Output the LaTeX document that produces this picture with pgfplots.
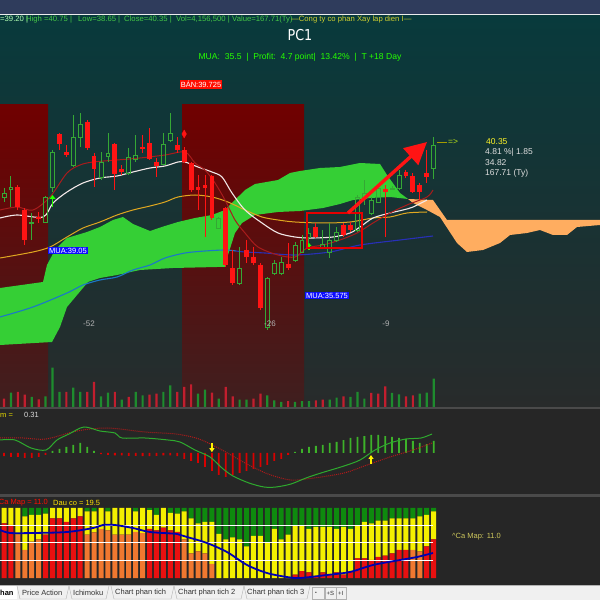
\documentclass[border=0pt]{standalone}
\usepackage{fontspec}
\setmainfont{Liberation Sans}
\newfontfamily\pcfont{DejaVu Sans}
\usepackage{pgfplots}
\usepackage{pgfplotstable}
\pgfplotsset{compat=1.18}
\usetikzlibrary{arrows.meta}
\definecolor{topbar}{HTML}{2F3C5C}
\definecolor{tealtop}{HTML}{083A3C}
\definecolor{tealbot}{HTML}{282B2B}
\definecolor{zonetop}{HTML}{700000}
\definecolor{zonebot}{HTML}{3F1F1F}
\definecolor{cloudg}{HTML}{35CF35}
\definecolor{cloudo}{HTML}{FFAD60}
\definecolor{cgreen}{HTML}{35A835}
\definecolor{cred}{HTML}{FF1414}
\definecolor{vgreen}{HTML}{1E8C2E}
\definecolor{vred}{HTML}{C21E2E}
\definecolor{mawhite}{HTML}{F2E8E8}
\definecolor{mayellow}{HTML}{E0A820}
\definecolor{mared}{HTML}{A81C1C}
\definecolor{mablue}{HTML}{2830B8}
\definecolor{mateal}{HTML}{1A78C8}
\definecolor{panel}{HTML}{262626}
\definecolor{sep}{HTML}{4A4A4A}
\definecolor{hgreen}{HTML}{46C846}
\definecolor{hyellow}{HTML}{D0D030}
\definecolor{sgreen}{HTML}{0E8A0E}
\definecolor{syellow}{HTML}{F4F000}
\definecolor{sred}{HTML}{E81010}
\definecolor{sorange}{HTML}{F07830}
\definecolor{mgreen}{HTML}{2EAA2E}
\definecolor{mdot}{HTML}{B01A1A}

% up candles: index open high low close
\pgfplotstableread{
i o h l c
0 37.75 38.2 37.5 37.95
1 38.15 38.8 37.25 38.25
4 36.45 36.95 35.6 36.5
6 36.5 37.8 36.45 37.75
7 38.25 40.1 38.0 40.0
10 39.35 41.85 39.25 40.75
11 40.75 41.95 40.25 41.4
14 38.75 40.0 38.6 39.5
15 39.8 40.95 39.5 39.95
18 38.95 40.2 38.85 39.75
19 39.65 40.85 39.5 39.85
23 39.4 40.95 39.35 40.4
24 40.6 41.95 40.5 40.95
31 36.2 36.75 36.15 36.7
34 33.45 35.25 33.35 34.2
38 31.25 33.75 31.1 33.7
39 33.95 34.6 33.85 34.45
40 33.95 34.75 33.85 34.5
42 34.6 35.5 34.5 35.35
43 35.0 35.85 34.95 35.6
44 35.75 36.2 35.35 35.95
46 35.25 36.1 35.2 35.4
47 35.0 36.45 34.7 35.6
48 35.6 36.25 35.5 36.0
51 36.1 37.85 36.0 37.75
52 37.7 38.6 37.35 37.95
53 36.95 37.75 36.85 37.6
54 37.5 38.35 37.45 38.2
56 38.15 38.3 38.1 38.2
57 38.2 39.1 38.1 38.85
62 39.2 40.75 38.65 40.35
}\upc
% down candles
\pgfplotstableread{
i o h l c
2 38.25 38.35 37.1 37.25
3 37.1 37.2 35.35 35.6
5 36.75 37.0 36.45 36.65
8 40.9 40.95 40.1 40.4
9 40.0 40.35 39.75 39.85
12 41.5 41.6 40.1 40.2
13 39.8 39.95 38.25 39.15
16 40.4 40.45 38.1 38.9
17 39.15 39.35 38.85 39.0
20 40.25 40.85 39.95 40.15
21 40.45 41.2 39.6 39.65
22 39.5 39.7 38.75 39.3
25 40.35 40.75 39.95 40.1
26 40.1 40.25 39.45 39.5
27 39.45 39.5 38.0 38.1
28 38.25 38.85 37.1 38.1
29 38.35 38.85 35.75 38.2
30 38.8 38.85 36.6 36.7
32 37.2 37.25 34.25 34.35
33 34.2 35.1 33.35 33.45
35 35.1 35.6 34.45 34.75
36 34.75 35.25 34.35 34.45
37 34.35 34.45 32.1 32.2
41 34.4 35.45 34.1 34.2
45 36.25 36.45 35.7 35.75
49 36.35 36.45 35.75 35.85
50 36.35 36.5 36.0 36.1
55 38.15 38.35 35.75 38.0
58 39.0 39.1 38.7 38.8
59 38.8 38.95 37.95 38.0
60 38.35 38.45 37.6 38.0
61 38.95 40.1 38.45 38.75
}\dnc
% bottom panel stacks: orange red yellow green
\pgfplotstableread{
i O R Y G
0 0 78 22 0
1 0 76 24 0
2 62 0 38 0
3 40 0 48 12
4 52 0 38 10
5 55 0 35 10
6 0 62 30 8
7 0 85 15 0
8 0 85 15 0
9 0 80 20 0
10 0 85 15 0
11 0 88 12 0
12 62 0 33 5
13 65 0 30 5
14 70 0 30 0
15 68 0 27 5
16 62 0 38 0
17 62 0 38 0
18 62 0 38 0
19 66 0 29 5
20 64 0 36 0
21 0 70 27 3
22 0 68 22 10
23 0 72 28 0
24 0 68 25 7
25 0 66 26 8
26 55 0 40 5
27 35 0 50 15
28 38 0 40 22
29 35 0 45 20
30 20 0 60 20
31 0 0 63 37
32 0 0 55 45
33 0 0 58 42
34 0 0 55 45
35 0 0 45 55
36 0 0 60 40
37 0 0 60 40
38 0 0 50 50
39 0 0 70 30
40 0 0 55 45
41 0 0 62 38
42 0 5 70 25
43 0 10 65 25
44 0 8 62 30
45 0 3 70 27
46 0 8 65 27
47 0 5 68 27
48 0 8 62 30
49 0 5 68 27
50 0 10 60 30
51 0 28 47 25
52 0 28 52 20
53 0 26 52 22
54 0 30 52 18
55 0 32 50 18
56 0 35 50 15
57 0 40 45 15
58 0 40 45 15
59 40 0 45 15
60 38 0 50 12
61 0 45 45 10
62 0 55 40 5
}\stk

\pgfplotsset{
  base/.style={scale only axis, width=600pt, axis lines=none, ticks=none,
    xmin=-0.5772, xmax=86.003, clip=true, anchor=south west},
  mainax/.style={base, height=391pt, ymin=27.25, ymax=46.8, at={(0pt,193pt)}},
  ebar/.style n args={2}{mark=none, draw opacity=0, error bars/.cd, y dir=both, y explicit,
    error mark=none, error bar style={draw=#1, draw opacity=1, line width=#2}},
}

\begin{document}
\begin{tikzpicture}[x=1pt,y=1pt]
\useasboundingbox (0,0) rectangle (600,600);
\fill[topbar] (0,586) rectangle (600,600);
\fill[white!85!gray] (0,584) rectangle (600,586);
\shade[top color=tealtop, bottom color=tealbot] (0,193) rectangle (600,584);
\fill[sep] (0,191) rectangle (600,193);
\fill[panel] (0,106) rectangle (600,191);
\fill[sep] (0,103) rectangle (600,106);
\fill[panel] (0,15) rectangle (600,103);
\fill[gray!12] (0,0) rectangle (600,15);

% ---------- main panel: zones, cloud, averages
\begin{axis}[mainax]
\addplot[draw=none, top color=zonetop, bottom color=zonebot] coordinates {(-0.58,42.35) (6.35,42.35) (6.35,27.25) (-0.58,27.25)} -- cycle;
\addplot[draw=none, top color=zonetop, bottom color=zonebot] coordinates {(25.69,42.35) (43.29,42.35) (43.29,27.25) (25.69,27.25)} -- cycle;
\addplot[draw=none, fill=cloudg] coordinates {
(-0.58,33.2) (5.63,33.5) (6.20,34.35) (7.36,35.1) (9.09,35.7) (11.98,36.0) (13.85,36.25)
(15.73,36.6) (17.17,36.75) (18.61,36.4) (21.07,36.05) (23.23,36.3) (25.11,36.5) (27.56,36.7)
(30.01,36.85) (31.89,37.1) (33.33,37.6) (34.78,38.1) (36.22,38.4) (39.54,38.6) (41.27,38.95)
(42.71,39.05) (45.60,39.2) (48.48,39.25) (51.37,39.45) (54.26,39.4) (55.27,38.85) (57.14,37.95)
(58.30,37.65) (55.70,37.75) (52.81,37.7) (50.36,37.6) (48.48,37.4) (46.03,37.2) (42.71,37.05)
(39.54,37.0) (36.22,36.85) (34.34,36.45) (33.33,35.95) (32.32,34.85) (31.89,34.25) (30.74,34.25)
(24.39,34.2) (19.62,34.1) (16.31,33.85) (13.85,33.7) (12.12,33.5) (9.09,32.25) (8.08,31.25)
(6.93,30.5) (-0.58,30.35)} -- cycle;
\addplot[draw=none, fill=cloudo] coordinates {
(58.30,37.65) (61.90,37.6) (63.92,36.6) (86.0,36.6) (86.0,36.35) (82.68,36.25) (81.24,35.85)
(79.22,35.85) (77.34,36.1) (75.47,35.95) (73.02,35.85) (71.57,35.45) (69.12,35.1) (66.81,35.0)
(65.37,35.45) (62.91,36.75) (61.04,37.1) (59.02,37.45)} -- cycle;
% blue long average
\addplot[mateal, line width=1.1pt, smooth] coordinates {
(-0.58,31.75) (4.18,32.25) (9.09,32.95) (11.40,33.35) (13.85,33.6) (16.31,33.75) (18.61,34.1)
(21.07,34.35) (23.23,34.7) (26.12,34.95) (29.0,35.05) (31.89,35.1) (33.5,35.05)};
\addplot[mablue, line width=1.1pt, smooth] coordinates {
(33.5,35.05) (34.78,35.0) (37.66,34.95)
(41.99,34.85) (47.04,35.0) (51.37,35.35) (57.14,35.6) (61.90,35.8)};
% yellow average
\addplot[mayellow, line width=1pt, smooth] coordinates {
(-0.58,34.7) (4.18,35.0) (6.64,35.25) (9.09,35.75) (11.40,36.2) (13.85,36.5) (16.31,36.85)
(18.61,37.1) (21.07,37.3) (23.23,37.5) (25.11,37.75) (27.56,37.85) (30.01,37.75) (32.32,37.5)
(34.78,37.1) (37.23,36.75) (39.54,36.6) (41.99,36.5) (46.03,36.45) (49.93,36.5) (53.25,36.7)
(55.70,36.75) (58.15,36.95) (61.04,37.0)};
% white average
\addplot[mawhite, line width=1.1pt, smooth] coordinates {
(-0.58,36.7) (1.88,36.85) (5.63,36.75) (7.07,37.45) (9.09,38.0) (11.40,38.45) (13.85,38.7)
(16.31,38.8) (18.61,39.0) (21.07,39.2) (23.23,39.3) (25.11,39.5) (26.12,39.5) (27.99,39.25)
(30.01,39.0) (31.46,38.75) (32.90,37.95) (34.78,37.1) (37.23,36.45) (39.54,35.95) (41.99,35.75)
(44.16,35.7) (47.47,35.75) (49.93,35.95) (51.37,36.25) (53.25,36.7) (55.70,36.95) (57.58,37.1)
(59.02,37.25) (61.04,37.6)};
% dark red fast average
\addplot[mared, line width=1pt, smooth] coordinates {
(-0.58,37.1) (1.88,37.25) (4.18,37.1) (6.64,37.75) (9.09,38.95) (10.97,39.35) (12.84,39.5)
(16.31,39.6) (19.62,39.7) (23.23,39.85) (26.12,40.0) (27.56,39.45) (29.0,39.1) (30.45,38.45)
(31.89,37.6) (33.33,36.6) (34.78,35.95) (36.65,35.25) (39.54,34.85) (41.99,34.75) (43.72,35.2)
(46.03,35.35) (48.48,35.6) (50.94,35.95) (53.25,36.45) (55.70,36.95) (58.15,37.35) (61.04,37.75)
(61.90,38.1)};
\end{axis}

% ---------- volume
\begin{axis}[base, height=391pt, ymin=0, ymax=57.48, at={(0pt,193pt)}]
\addplot[ybar, bar width=2.2pt, bar shift=0pt, fill=vgreen, draw=none] coordinates {
(1,2.10) (4,1.47) (6,1.57) (7,5.78) (8,2.21) (10,2.84) (11,2.21) (14,1.57) (15,2.10) (17,1.07)
(19,2.21) (20,1.72) (23,2.21) (24,3.19) (28,1.96) (29,2.54) (31,1.22) (34,1.07) (35,1.07)
(38,1.72) (39,0.98) (40,0.74) (42,0.74) (43,0.88) (44,0.88) (47,1.07) (48,1.37) (50,1.47)
(51,2.21) (52,1.22) (56,2.06) (57,1.87) (60,1.96) (61,2.10) (62,4.16)};
\addplot[ybar, bar width=2.2pt, bar shift=0pt, fill=vred, draw=none] coordinates {
(0,1.22) (2,2.21) (3,1.81) (5,1.13) (9,2.21) (12,2.21) (13,3.68) (16,2.21) (18,1.47) (21,1.81)
(22,1.96) (25,2.21) (26,2.94) (27,3.34) (30,2.10) (32,2.94) (33,1.57) (36,1.22) (37,1.96)
(41,0.88) (45,0.98) (46,1.07) (49,1.57) (53,2.06) (54,1.96) (55,3.04) (58,1.57) (59,1.72)};
\end{axis}

% ---------- hollow up-candle bodies
\begin{axis}[mainax, ybar stacked, bar width=3.9pt]
\addplot[draw=none, fill=none, bar shift=0pt] table[x=i, y=o] {\upc};
\addplot[draw=cgreen, line width=0.9pt, fill=none, bar shift=0pt] table[x=i, y expr={max(\thisrow{c}-\thisrow{o},0.05)}] {\upc};
\end{axis}

% ---------- wicks, filled bodies, annotations
\begin{axis}[mainax]
\addplot[ebar={cgreen}{0.9pt}] table[x=i, y expr={(\thisrow{h}+\thisrow{c})/2}, y error expr={(\thisrow{h}-\thisrow{c})/2}] {\upc};
\addplot[ebar={cgreen}{0.9pt}] table[x=i, y expr={(\thisrow{o}+\thisrow{l})/2}, y error expr={(\thisrow{o}-\thisrow{l})/2}] {\upc};
\addplot[ebar={cred}{0.9pt}] table[x=i, y expr={(\thisrow{h}+\thisrow{l})/2}, y error expr={(\thisrow{h}-\thisrow{l})/2}] {\dnc};
\addplot[ebar={cred}{4.8pt}] table[x=i, y expr={(\thisrow{o}+\thisrow{c})/2}, y error expr={max((\thisrow{o}-\thisrow{c})/2,0.03)}] {\dnc};
\addplot[only marks, mark=diamond*, mark size=3pt, cred, mark options={yscale=1.3}] coordinates {(26,40.9)};
\addplot[green!80!lime, line width=1.6pt, -{Triangle[length=4pt,width=6pt]}] coordinates {(7,37.25) (7,37.85)};
\addplot[green!80!lime, line width=1.4pt, -{Triangle[length=3pt,width=5pt]}] coordinates {(44,35.12) (44,35.45)};
\addplot[red!90!black, line width=2pt] coordinates {(43.72,36.95) (51.66,36.95) (51.66,35.2) (43.72,35.2)} -- cycle;
\addplot[cred, line width=3.4pt, -{Triangle[length=22pt,width=22pt]}] coordinates {(49.64,36.95) (61.04,40.5)};
\end{axis}

% ---------- oscillator panel
\begin{axis}[base, height=85pt, ymin=-1.025, ymax=1.1, at={(0pt,106pt)}]
\addplot[ybar, bar width=1.8pt, bar shift=0pt, fill=mgreen!90!lime, draw=none] coordinates {
(7,0.05) (8,0.1) (9,0.15) (10,0.2) (11,0.25) (12,0.15) (13,0.05)
(42,0.03) (43,0.1) (44,0.15) (45,0.18) (46,0.2) (47,0.25) (48,0.28) (49,0.32) (50,0.38) (51,0.4)
(52,0.42) (53,0.45) (54,0.45) (55,0.42) (56,0.4) (57,0.38) (58,0.35) (59,0.3) (60,0.25) (61,0.22) (62,0.3)};
\addplot[ybar, bar width=1.8pt, bar shift=0pt, fill=red!85!black, draw=none] coordinates {
(0,-0.08) (1,-0.1) (2,-0.1) (3,-0.12) (4,-0.12) (5,-0.1) (6,-0.05) (14,-0.03) (15,-0.05) (16,-0.06)
(17,-0.06) (18,-0.07) (19,-0.07) (20,-0.08) (21,-0.08) (22,-0.07) (23,-0.06) (24,-0.06) (25,-0.08)
(26,-0.15) (27,-0.2) (28,-0.25) (29,-0.35) (30,-0.45) (31,-0.55) (32,-0.6) (33,-0.55) (34,-0.5)
(35,-0.45) (36,-0.4) (37,-0.35) (38,-0.3) (39,-0.2) (40,-0.15) (41,-0.05)};
\addplot[mdot, densely dotted, line width=1pt, smooth] coordinates {
(-0.58,0.38) (2.74,0.375) (6.06,0.35) (10.53,0.55) (14.86,0.625) (20.35,0.525) (24.82,0.475)
(28.14,0.35) (31.46,0.075) (34.78,-0.25) (38.10,-0.525) (41.41,-0.675) (44.73,-0.625) (49.06,-0.5)
(52.38,-0.3) (55.70,-0.1) (59.02,0.075) (61.76,0.25)};
\addplot[mgreen, line width=1pt, smooth] coordinates {
(-0.58,0.325) (1.59,0.325) (3.90,0.125) (6.06,0.075) (7.65,0.325) (9.38,0.475) (11.54,0.65)
(13.85,0.55) (16.02,0.5) (17.03,0.375) (20.35,0.375) (23.67,0.325) (25.40,0.275) (27.56,0.075)
(29.73,-0.1) (31.46,-0.375) (33.04,-0.575) (35.35,-0.75) (37.52,-0.85) (39.25,-0.85) (41.41,-0.775)
(43.58,-0.625) (45.74,-0.5) (49.06,-0.325) (51.37,-0.175) (53.54,0.075) (55.70,0.25) (58.01,0.35)
(60.17,0.375) (61.76,0.475)};
\addplot[yellow, line width=1.5pt, -{Triangle[length=4pt,width=5pt]}] coordinates {(30,0.25) (30,0.02)};
\addplot[yellow, line width=1.5pt, -{Triangle[length=4pt,width=5pt]}] coordinates {(52.96,-0.27) (52.96,-0.05)};
\end{axis}

% ---------- bottom stacked panel
\begin{axis}[base, height=88pt, ymin=-10, ymax=115.71, at={(0pt,15pt)}, ybar stacked, bar width=5pt]
\addplot[fill=sorange, draw=none, bar shift=0pt] table[x=i, y=O] {\stk};
\addplot[fill=sred, draw=none, bar shift=0pt] table[x=i, y=R] {\stk};
\addplot[fill=syellow, draw=none, bar shift=0pt] table[x=i, y=Y] {\stk};
\addplot[fill=sgreen, draw=none, bar shift=0pt] table[x=i, y=G] {\stk};
\end{axis}
\begin{axis}[base, height=88pt, ymin=-10, ymax=115.71, at={(0pt,15pt)}]
\addplot[white, line width=1pt] coordinates {(-0.58,25) (61.9,25)};
\addplot[white, line width=1pt] coordinates {(-0.58,50) (61.9,50)};
\addplot[white, line width=1pt] coordinates {(-0.58,75) (61.9,75)};
\addplot[blue!70!black, line width=1.8pt, smooth] coordinates {
(-0.58,68.6) (0.87,64.3) (4.18,64.3) (9.09,65.7) (12.84,71.4) (14.29,75.7) (16.02,75.7) (18.61,71.4)
(21.07,65.7) (24.96,62.9) (26.41,58.6) (29.29,50) (32.18,37.1) (35.06,18.6) (37.95,7.1) (40.84,1.4)
(42.71,0) (46.61,4.3) (49.93,8.6) (53.25,18.6) (57.14,25.7) (59.60,30) (61.90,35.7)};
\end{axis}

% ---------- texts
\begin{scope}[font=\fontsize{7.7}{8}\selectfont, inner sep=0pt]
\node[anchor=west, text=green!30!white] at (0,580) {=39.20 |};
\node[anchor=west, text=hgreen] at (26,580) {High =40.75 |};
\node[anchor=west, text=hgreen] at (78,580) {Low=38.65 |};
\node[anchor=west, text=hgreen] at (124,580) {Close=40.35 |};
\node[anchor=west, text=hgreen] at (176,580) {Vol=4,156,500 |};
\node[anchor=west, text=hgreen] at (232,580) {Value=167.71(Ty)};
\node[anchor=west, text=hyellow] at (291,580) {---Cong ty co phan Xay lap dien I---};
\end{scope}
\node[text=white, font=\pcfont\fontsize{15}{16}\selectfont, inner sep=0pt, xscale=0.85] at (300,565) {PC1};
\node[text=green!80!lime, font=\fontsize{8.6}{9}\selectfont, inner sep=0pt] at (300,543) {MUA:\ \ 35.5\ \ |\ \ Profit:\ \ 4.7 point|\ \ 13.42\%\ \ |\ \ T +18 Day};
\node[fill=red!90!orange, text=white, font=\fontsize{7.5}{8}\selectfont, inner sep=1.2pt] at (201,515.5) {BÁN:39.725};
\node[fill=blue!95!white, text=white, font=\fontsize{7.5}{8}\selectfont, inner sep=1.2pt] at (68,349.5) {MUA:39.05};
\node[fill=blue!95!white, text=white, font=\fontsize{7.5}{8}\selectfont, inner sep=1.2pt] at (327,304.5) {MUA:35.575};
\begin{scope}[font=\fontsize{8}{9}\selectfont, text=gray!60!white]
\node at (89,276) {-52};
\node at (270,276) {-26};
\node at (386,276) {-9};
\end{scope}
\draw[olive!80!yellow, line width=0.6pt] (437,458) -- (447,458);
\begin{scope}[font=\fontsize{8.5}{9}\selectfont, inner sep=0pt, anchor=west]
\node[anchor=west, text=yellow!70!green] at (448,458) {=>};
\node[anchor=west, text=yellow!85!white] at (486,458) {40.35};
\node[anchor=west, text=gray!25!white] at (485,447.5) {4.81 \%| 1.85};
\node[anchor=west, text=gray!25!white] at (485,437) {34.82};
\node[anchor=west, text=gray!25!white] at (485,426.5) {167.71 (Ty)};
\end{scope}
\begin{scope}[font=\fontsize{7.5}{8}\selectfont, inner sep=0pt]
\node[anchor=west, text=yellow!80!olive] at (0,185) {m =};
\node[anchor=west, text=gray!30!white] at (24,185) {0.31};
\node[anchor=east, text=red!90!orange] at (48,97) {Ca Map = 11.0};
\node[anchor=west, text=yellow!85!orange] at (53,97) {Dau co = 19.5};
\node[anchor=west, text=yellow!55!gray] at (452,63) {\textasciicircum Ca Map: 11.0};
\end{scope}
% tab strip
\draw[gray!60] (0,15) -- (600,15);
\begin{scope}[font=\fontsize{7.5}{8}\selectfont, inner sep=0pt, text=gray!40!black]
\fill[white] (0,1) rectangle (17,14);
\node[anchor=west, font=\bfseries\fontsize{7.5}{8}\selectfont, text=black] at (0,7) {han};
\draw[gray!60] (17,14) -- (20,1) -- (66,1) -- (69,14);
\node[anchor=west] at (22,7) {Price Action};
\draw[gray!60] (69,14) -- (72,1) -- (106,1) -- (109,14);
\node[anchor=west] at (73,7) {Ichimoku};
\draw[gray!60] (111,14) -- (114,1) -- (171,1) -- (174,14);
\node[anchor=west] at (115,7) {Chart phan tich};
\draw[gray!60] (174,14) -- (177,1) -- (241,1) -- (244,14);
\node[anchor=west] at (178,7) {Chart phan tich 2};
\draw[gray!60] (244,14) -- (247,1) -- (307,1) -- (310,14);
\node[anchor=west] at (247,7) {Chart phan tich 3};
\draw[gray!60] (312,1) rectangle (324,13);
\node[anchor=west] at (315,7) {\tiny\textbullet};
\draw[gray!60] (325,1) rectangle (336,13);
\node[anchor=west] at (326.5,7) {\fontsize{6}{6}\selectfont+S};
\draw[gray!60] (336,1) rectangle (346,13);
\node[anchor=west] at (338,7) {\fontsize{6}{6}\selectfont+I};
\end{scope}
\end{tikzpicture}
\end{document}
